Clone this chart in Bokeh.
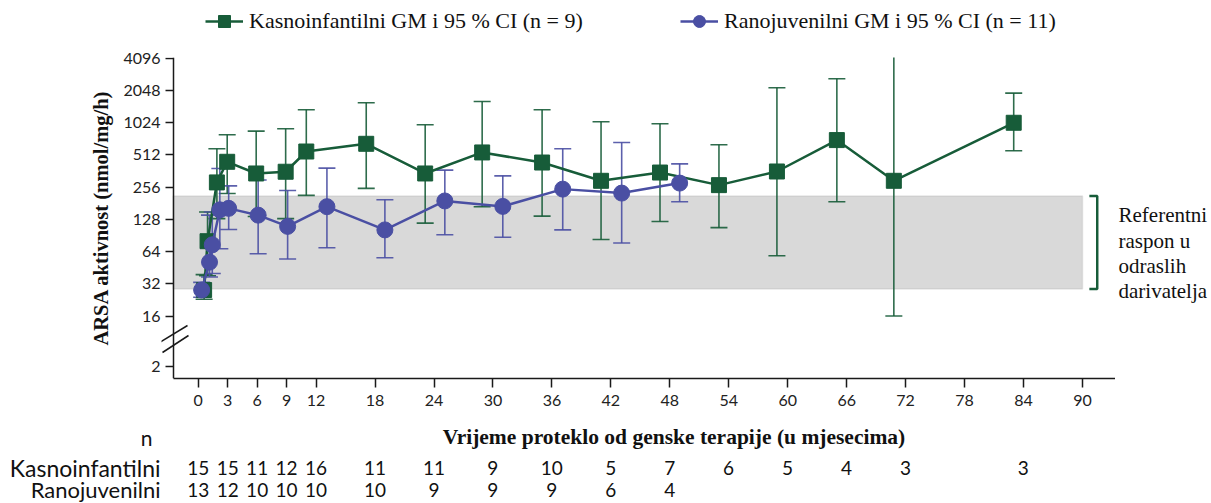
import math
from bokeh.plotting import figure
from bokeh.layouts import column, row
from bokeh.models import (Range1d, FixedTicker, CustomJSTickFormatter, BoxAnnotation, Whisker, TeeHead,
                          ColumnDataSource, Legend, LegendItem, Arrow, LogAxis)
from bokeh.core.properties import value
from bokeh.embed import file_html
from bokeh.resources import INLINE

# ---------------- data ----------------
kasno_month = [0.6, 0.95, 1.9, 2.95, 5.9, 8.9, 11.0, 17.1, 23.1, 28.9, 35.0, 41.0, 47.0, 53.0, 58.9, 65.0, 70.8, 83.0]
kasno_gm = [28, 80, 283, 441, 343, 356, 550, 649, 343, 539, 434, 293, 350, 267, 358, 703, 293, 1020]
kasno_lo = [23, 38, 130, 223, 136, 130, 214, 249, 118, 168, 137, 83, 122, 107, 58.5, 187, 16, 559]
kasno_hi = [39, 150, 583, 788, 853, 896, 1348, 1567, 977, 1611, 1348, 1042, 998, 636, 2163, 2625, 5333, 1931]

rano_month = [0.35, 1.15, 1.43, 2.2, 3.1, 6.1, 9.1, 13.1, 19.0, 25.1, 31.0, 37.1, 43.1, 49.0]
rano_gm = [28, 51, 74, 157, 162, 140, 110, 168, 102, 190, 169, 245, 225, 279]
rano_lo = [24, 37, 40, 68, 103, 61, 54.5, 69.5, 56, 92, 87, 102, 77, 187]
rano_hi = [33, 140, 150, 382, 263, 298, 238, 385, 195, 369, 326, 583, 668, 422]

ref_low, ref_high = 28.6, 211

x_ticks = [0, 3, 6, 9, 12, 18, 24, 30, 36, 42, 48, 54, 60, 66, 72, 78, 84, 90]
y_ticks = [16, 32, 64, 128, 256, 512, 1024, 2048, 4096]
y_break_label = "2"

n_kasno_month = [0, 3, 6, 9, 12, 18, 24, 30, 36, 42, 48, 54, 60, 66, 72, 84]
n_kasno = [15, 15, 11, 12, 16, 11, 11, 9, 10, 5, 7, 6, 5, 4, 3, 3]
n_rano_month = [0, 3, 6, 9, 12, 18, 24, 30, 36, 42, 48]
n_rano = [13, 12, 10, 10, 10, 10, 9, 9, 9, 6, 4]

legend_kasno = "Kasnoinfantilni GM i 95 % CI (n = 9)"
legend_rano = "Ranojuvenilni GM i 95 % CI (n = 11)"
y_title = "ARSA aktivnost (nmol/mg/h)"
x_title = "Vrijeme proteklo od genske terapije (u mjesecima)"
ref_text = "Referentni\nraspon u\nodraslih\ndarivatelja"
row_names = ["Kasnoinfantilni", "Ranojuvenilni"]

# ---------------- styling ----------------
GREEN = "#175c39"
BLUE = "#4a4fa3"
SANS = "Lato"
SERIF = "Liberation Serif"
TXT = "#111111"
AX = "#1a1a1a"
break_pos = 5.42          # where the "2" tick sits below the axis break
x_start, x_end = -3.737, 93.36
axis_x = -2.55            # x location of the y axis line


def bare(fig):
    fig.outline_line_color = None
    fig.grid.visible = False
    fig.background_fill_alpha = 0
    fig.border_fill_alpha = 0
    return fig


# ---------------- main chart ----------------
p = figure(width=1115, height=369, output_backend="svg", toolbar_location=None,
           y_axis_type="log", x_range=Range1d(x_start, x_end), y_range=Range1d(4.18, 4150),
           min_border_left=161, min_border_right=0, min_border_top=11, min_border_bottom=37)
bare(p)

y_fmt = CustomJSTickFormatter(args=dict(lbl=y_break_label),
                              code="return tick < 10 ? lbl : Math.round(tick).toString();")

for ax in (p.xaxis, p.yaxis):
    ax.axis_line_color = AX
    ax.axis_line_width = 1.5
    ax.major_tick_line_color = AX
    ax.major_tick_line_width = 1.5
    ax.major_tick_in = 0
    ax.minor_tick_line_color = None
    ax.major_label_text_font = SANS
    ax.major_label_text_font_size = "16px"
    ax.major_label_text_color = "#222222"

p.xaxis.ticker = FixedTicker(ticks=x_ticks)
p.xaxis.bounds = (axis_x, x_end)
p.xaxis.major_tick_out = 9
p.xaxis.major_label_standoff = 7

# axis line + ticks drawn at the true axis position
p.yaxis.ticker = FixedTicker(ticks=[break_pos] + y_ticks)
p.yaxis.fixed_location = axis_x
p.yaxis.major_tick_out = 8
p.yaxis.major_label_text_alpha = 0
p.yaxis.formatter = y_fmt

# labels-only axis in the left panel
lab_axis = LogAxis(ticker=FixedTicker(ticks=[break_pos] + y_ticks), formatter=y_fmt,
                   axis_line_color=None, major_tick_line_color=None, minor_tick_line_color=None,
                   major_tick_in=0, major_tick_out=0, major_label_standoff=1,
                   major_label_text_font=SANS, major_label_text_font_size="16px",
                   major_label_text_color="#222222",
                   axis_label=y_title, axis_label_text_font=SERIF, axis_label_text_font_style="bold",
                   axis_label_text_font_size="20.5px", axis_label_text_color=TXT, axis_label_standoff=8)
p.add_layout(lab_axis, "left")

# reference band
p.add_layout(BoxAnnotation(left=axis_x, right=90, bottom=ref_low, top=ref_high, fill_color="#d9d9d9",
                           fill_alpha=1, line_color="#b3b3b3", line_width=1.5, level="underlay"))
# bracket
p.line(x=[90.7, 91.5, 91.5, 90.7], y=[ref_high, ref_high, ref_low, ref_low], line_color=GREEN, line_width=2.5)

# axis break marks (screen units relative to the frame)
for (xs, ys, xe, ye) in [(-2, 36, 26, 53), (1, 26, 27, 43)]:
    p.add_layout(Arrow(end=None, x_start=xs, y_start=ys, x_end=xe, y_end=ye,
                       start_units="screen", end_units="screen", line_color=AX, line_width=1.5))


def series(fig, month, gm, lo, hi, color, marker, size):
    src = ColumnDataSource(dict(x=month, y=gm, lo=lo, hi=hi))
    fig.add_layout(Whisker(source=src, base="x", upper="hi", lower="lo", dimension="height",
                           line_color=color, line_width=1.6, line_alpha=0.9,
                           upper_head=TeeHead(size=17, line_color=color, line_width=1.6, line_alpha=0.9),
                           lower_head=TeeHead(size=17, line_color=color, line_width=1.6, line_alpha=0.9)))
    fig.line("x", "y", source=src, line_color=color, line_width=2.5)
    fig.scatter("x", "y", source=src, marker=marker, size=size, fill_color=color, line_color=color)


series(p, kasno_month, kasno_gm, kasno_lo, kasno_hi, GREEN, "square", 15)
series(p, rano_month, rano_gm, rano_lo, rano_hi, BLUE, "circle", 16)

# ---------------- legend strip (top) ----------------
top = figure(width=1211, height=46, output_backend="svg", toolbar_location=None,
             x_range=Range1d(0, 1), y_range=Range1d(0, 1), min_border=0,
             x_axis_location=None, y_axis_location=None)
bare(top)
off = [-5]  # legend proxies sit outside the visible range
g_line = top.line(x=off, y=off, line_color=GREEN, line_width=2.5)
g_mark = top.scatter(x=off, y=off, marker="square", fill_color=GREEN, line_color=GREEN)
b_line = top.line(x=off, y=off, line_color=BLUE, line_width=2.5)
b_mark = top.scatter(x=off, y=off, marker="circle", fill_color=BLUE, line_color=BLUE)
legend = Legend(items=[LegendItem(label=legend_kasno, renderers=[g_line, g_mark]),
                       LegendItem(label=legend_rano, renderers=[b_line, b_mark])],
                orientation="horizontal", location=(205, 10), spacing=96, label_width=335,
                glyph_width=38, glyph_height=30, label_standoff=6, padding=2, margin=0,
                label_text_font=SERIF, label_text_font_size="22px", label_text_color=TXT,
                border_line_color=None, background_fill_alpha=0)
top.add_layout(legend, "center")

# ---------------- right-hand note ----------------
side = figure(width=96, height=369, output_backend="svg", toolbar_location=None,
              x_range=Range1d(0, 96), y_range=Range1d(369, 0), min_border=0,
              x_axis_location=None, y_axis_location=None)
bare(side)
side.text(x=[3], y=[225], text=[ref_text], text_font=value(SERIF), text_font_size=value("21px"),
          text_color=TXT, text_align="left", text_baseline="middle", text_line_height=1.06)

# ---------------- bottom: x title and n table ----------------
bot = figure(width=1211, height=88, output_backend="svg", toolbar_location=None,
             x_range=Range1d(-20.128, 103.166), y_range=Range1d(88, 0), min_border=0,
             x_axis_location=None, y_axis_location=None)
bare(bot)
bot.text(x=[48.44], y=[21], text=[x_title], text_font=value(SERIF), text_font_style="bold",
         text_font_size=value("21.5px"), text_color=TXT, text_align="center", text_baseline="middle")
bot.text(x=[-4.65], y=[22], text=["n"], text_font=value(SANS), text_font_size=value("21px"),
         text_color=TXT, text_align="right", text_baseline="middle")
for name, yy, fs, months, ns in [(row_names[0], 52, "23px", n_kasno_month, n_kasno),
                                 (row_names[1], 74, "22px", n_rano_month, n_rano)]:
    bot.text(x=[-3.84], y=[yy], text=[name], text_font=value(SANS), text_font_size=value(fs),
             text_color=TXT, text_align="right", text_baseline="middle")
    nsrc = ColumnDataSource(dict(x=months, y=[yy] * len(months), t=[str(v) for v in ns]))
    bot.text(x="x", y="y", text="t", source=nsrc, text_font=value(SANS), text_font_size=value("19px"),
             text_color=TXT, text_align="center", text_baseline="middle")

layout = column(top, row(p, side), bot)
open("out.html", "w").write(file_html(layout, INLINE))
